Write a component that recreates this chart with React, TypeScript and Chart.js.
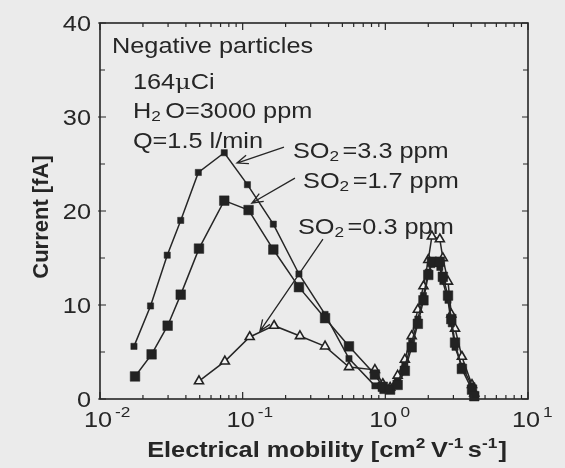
import { useEffect, useRef } from "react";
import { Chart, registerables } from "chart.js";

Chart.register(...registerables);

// ---- Data ----
const mobilitySO2_33 = [0.0173, 0.0226, 0.0296, 0.0368, 0.0489, 0.0743, 0.108, 0.164, 0.248, 0.378, 0.556, 0.845, 0.96, 1.08, 1.22, 1.37, 1.53, 1.69, 1.85, 2.0, 2.12, 2.41, 2.53, 2.75, 2.9, 3.08, 3.44, 4.05, 4.2];
const currentSO2_33 = [5.6, 9.9, 15.3, 19.0, 24.1, 26.2, 22.8, 18.6, 13.3, 9.0, 4.3, 1.4, 0.9, 1.0, 1.8, 3.5, 6.0, 8.5, 11.0, 13.5, 14.3, 14.0, 12.5, 10.5, 8.0, 5.5, 3.5, 1.4, 0.5];

const mobilitySO2_17 = [0.0176, 0.023, 0.0298, 0.0368, 0.0494, 0.0743, 0.11, 0.164, 0.248, 0.378, 0.556, 0.845, 0.96, 1.08, 1.22, 1.37, 1.53, 1.69, 1.85, 2.0, 2.12, 2.41, 2.53, 2.75, 2.9, 3.08, 3.44, 4.05, 4.2];
const currentSO2_17 = [2.4, 4.75, 7.8, 11.1, 16.0, 21.1, 20.1, 15.9, 11.9, 8.6, 5.6, 2.6, 1.3, 1.0, 1.5, 3.0, 5.5, 8.0, 10.5, 13.2, 14.6, 14.6, 13.0, 11.0, 8.5, 6.0, 3.2, 1.0, 0.3];

const mobilitySO2_03 = [0.0494, 0.075, 0.112, 0.166, 0.252, 0.378, 0.556, 0.845, 0.96, 1.08, 1.22, 1.37, 1.53, 1.69, 1.85, 2.0, 2.12, 2.41, 2.53, 2.75, 2.9, 3.08, 3.44, 4.05, 4.2];
const currentSO2_03 = [1.9, 4.0, 6.6, 7.8, 6.7, 5.6, 3.4, 3.1, 1.6, 1.2, 2.5, 4.2, 6.7, 9.5, 12.0, 14.8, 17.3, 17.0, 15.0, 12.5, 9.0, 7.5, 4.5, 1.5, 0.6];

const yTickValues = [0, 10, 20, 30, 40];
const xTickExponents = [-2, -1, 0, 1];
const yAxisTitle = "Current [fA]";
const xAxisTitle = "Electrical mobility [cm";

// annotation anchors in data coordinates (mobility, current)
const noteNegative = { x: 0.01214, y: 36.8 };
const noteSource = { x: 0.017, y: 33.0 };
const noteWater = { x: 0.017, y: 29.9 };
const noteFlow = { x: 0.017, y: 26.7 };
const labelSO2_33 = { x: 0.225, y: 25.6 };
const labelSO2_17 = { x: 0.265, y: 22.4 };
const labelSO2_03 = { x: 0.244, y: 17.55 };
const arrowSO2_33 = { x1: 0.1948, y1: 26.8, x2: 0.0912, y2: 25.1 };
const arrowSO2_17 = { x1: 0.2325, y1: 23.5, x2: 0.116, y2: 20.85 };
const arrowSO2_03 = { x1: 0.3653, y1: 17.0, x2: 0.1322, y2: 7.23 };

// ---- styling ----
const FONT = '"Liberation Sans", Arial, Helvetica, sans-serif';
const SX = 1.15;
const INK = "#262626";
const TEXT = "#262626";
const BG = "#ebebeb";

type Seg = { t: string; size?: number; bold?: boolean; dy?: number; fam?: string; gap?: number };

function segFont(s: Seg, base: number, bold: boolean) {
  const b = s.bold ?? bold;
  return `${b ? "bold " : ""}${s.size ?? base}px ${s.fam ?? FONT}`;
}

function richWidth(ctx: CanvasRenderingContext2D, segs: Seg[], base: number, bold: boolean) {
  let w = 0;
  for (const s of segs) {
    ctx.font = segFont(s, base, bold);
    w += ctx.measureText(s.t).width + (s.gap ?? 0);
  }
  return w;
}

function drawRich(
  ctx: CanvasRenderingContext2D,
  x: number,
  y: number,
  segs: Seg[],
  base: number,
  bold: boolean,
  align: "left" | "center" | "right",
  sx = SX
) {
  ctx.save();
  ctx.translate(x, y);
  ctx.scale(sx, 1);
  const w = richWidth(ctx, segs, base, bold);
  let cx = align === "left" ? 0 : align === "center" ? -w / 2 : -w;
  ctx.textAlign = "left";
  ctx.textBaseline = "alphabetic";
  ctx.fillStyle = TEXT;
  for (const s of segs) {
    ctx.font = segFont(s, base, bold);
    ctx.fillText(s.t, cx, s.dy ?? 0);
    cx += ctx.measureText(s.t).width + (s.gap ?? 0);
  }
  ctx.restore();
}

function drawArrow(ctx: CanvasRenderingContext2D, x1: number, y1: number, x2: number, y2: number) {
  const ang = Math.atan2(y2 - y1, x2 - x1);
  const len = 12;
  const spread = 0.38;
  ctx.beginPath();
  ctx.moveTo(x1, y1);
  ctx.lineTo(x2, y2);
  ctx.moveTo(x2 - len * Math.cos(ang - spread), y2 - len * Math.sin(ang - spread));
  ctx.lineTo(x2, y2);
  ctx.lineTo(x2 - len * Math.cos(ang + spread), y2 - len * Math.sin(ang + spread));
  ctx.stroke();
}

const so2Segs = (rest: string): Seg[] => [
  { t: "SO" },
  { t: "2", size: 15, dy: 3, gap: 3 },
  { t: rest },
];

const decorPlugin = {
  id: "decor",
  beforeDraw(chart: any) {
    const ctx = chart.ctx as CanvasRenderingContext2D;
    ctx.save();
    ctx.fillStyle = BG;
    ctx.fillRect(0, 0, chart.width, chart.height);
    ctx.restore();
  },
  afterDraw(chart: any) {
    const ctx = chart.ctx as CanvasRenderingContext2D;
    const xs = chart.scales.x;
    const ys = chart.scales.y;
    const { left, right, top, bottom } = chart.chartArea;
    const px = (v: number) => xs.getPixelForValue(v);
    const py = (v: number) => ys.getPixelForValue(v);

    ctx.save();
    ctx.strokeStyle = INK;
    ctx.lineWidth = 1.6;
    ctx.strokeRect(left, top, right - left, bottom - top);

    // x ticks (log) on bottom and top, inward
    ctx.lineWidth = 1.2;
    ctx.beginPath();
    for (let d = -2; d <= 1; d++) {
      for (let m = 1; m <= 9; m++) {
        const v = m * Math.pow(10, d);
        if (v > 10.0001) break;
        const x = px(v);
        const len = m === 1 ? 7 : 4;
        ctx.moveTo(x, bottom);
        ctx.lineTo(x, bottom - len);
        ctx.moveTo(x, top);
        ctx.lineTo(x, top + len);
      }
    }
    // y ticks every 5, left and right, inward
    for (let v = 0; v <= 40; v += 5) {
      const y = py(v);
      const len = v % 10 === 0 ? 6 : 5;
      ctx.moveTo(left - (v % 10 === 0 ? 2 : 0), y);
      ctx.lineTo(left + len, y);
      ctx.moveTo(right, y);
      ctx.lineTo(right - len, y);
    }
    ctx.stroke();

    // y tick labels
    for (const v of yTickValues) {
      drawRich(ctx, left - 9, py(v) + 8, [{ t: String(v) }], 22, false, "right");
    }
    // x tick labels 10^e
    for (const e of xTickExponents) {
      const x = px(Math.pow(10, e)) - 2;
      ctx.font = `22px ${FONT}`;
      const w10 = ctx.measureText("10").width * SX;
      drawRich(ctx, x, bottom + 28, [{ t: "10" }], 22, false, "center");
      drawRich(ctx, x + w10 / 2 + 3, bottom + 18, [{ t: String(e) }], 15, false, "left");
    }

    // axis titles
    drawRich(
      ctx,
      (left + right) / 2 + 13,
      bottom + 58,
      [
        { t: xAxisTitle },
        { t: "2", size: 15, dy: -9, gap: 5 },
        { t: "V" },
        { t: "-1", size: 15, dy: -9, gap: 4 },
        { t: "s" },
        { t: "-1", size: 15, dy: -9, gap: 1 },
        { t: "]" },
      ],
      22,
      true,
      "center"
    );
    ctx.save();
    ctx.translate(48, (top + bottom) / 2 + 6);
    ctx.rotate(-Math.PI / 2);
    drawRich(ctx, 0, 0, [{ t: yAxisTitle }], 22, true, "center", 1);
    ctx.restore();

    // annotations
    drawRich(ctx, px(noteNegative.x), py(noteNegative.y), [{ t: "Negative particles" }], 22, false, "left");
    drawRich(
      ctx,
      px(noteSource.x),
      py(noteSource.y),
      [{ t: "164" }, { t: "\u03bc", fam: '"DejaVu Serif", serif', size: 21 }, { t: "Ci" }],
      22,
      false,
      "left"
    );
    drawRich(
      ctx,
      px(noteWater.x),
      py(noteWater.y),
      [{ t: "H" }, { t: "2", size: 15, dy: 3, gap: 4 }, { t: "O=3000 ppm" }],
      22,
      false,
      "left"
    );
    drawRich(ctx, px(noteFlow.x), py(noteFlow.y), [{ t: "Q=1.5 l/min" }], 22, false, "left");
    drawRich(ctx, px(labelSO2_33.x), py(labelSO2_33.y), so2Segs("=3.3 ppm"), 22, false, "left");
    drawRich(ctx, px(labelSO2_17.x), py(labelSO2_17.y), so2Segs("=1.7 ppm"), 22, false, "left");
    drawRich(ctx, px(labelSO2_03.x), py(labelSO2_03.y), so2Segs("=0.3 ppm"), 22, false, "left");

    ctx.strokeStyle = INK;
    ctx.lineWidth = 1.3;
    for (const a of [arrowSO2_33, arrowSO2_17, arrowSO2_03]) {
      drawArrow(ctx, px(a.x1), py(a.y1), px(a.x2), py(a.y2));
    }
    ctx.restore();
  },
};

function toPoints(xs: number[], ys: number[]) {
  return xs.map((x, i) => ({ x, y: ys[i] }));
}

export default function App() {
  const ref = useRef<HTMLCanvasElement | null>(null);

  useEffect(() => {
    if (!ref.current) return;
    const chart = new Chart(ref.current, {
      type: "line",
      data: {
        datasets: [
          {
            label: "SO2=1.7 ppm",
            data: toPoints(mobilitySO2_17, currentSO2_17),
            borderColor: INK,
            borderWidth: 1.5,
            pointStyle: "rect",
            pointRadius: 6.8,
            pointBackgroundColor: "#222222",
            pointBorderColor: "#222222",
            pointBorderWidth: 0.5,
            clip: 10,
          } as any,
          {
            label: "SO2=3.3 ppm",
            data: toPoints(mobilitySO2_33, currentSO2_33),
            borderColor: INK,
            borderWidth: 1.5,
            pointStyle: "rect",
            pointRadius: 4.4,
            pointBackgroundColor: "#222222",
            pointBorderColor: "#222222",
            pointBorderWidth: 0.5,
            clip: 10,
          } as any,
          {
            label: "SO2=0.3 ppm",
            data: toPoints(mobilitySO2_03, currentSO2_03),
            borderColor: INK,
            borderWidth: 1.5,
            pointStyle: "triangle",
            pointRadius: 5.2,
            pointBackgroundColor: "#f2f2f2",
            pointBorderColor: "#222222",
            pointBorderWidth: 1.6,
            clip: 10,
          } as any,
        ],
      },
      options: {
        responsive: false,
        animation: false,
        devicePixelRatio: 1,
        layout: { padding: { left: 0, top: 23, right: 37, bottom: 0 } },
        plugins: { legend: { display: false }, tooltip: { enabled: false } },
        elements: { line: { tension: 0 } },
        scales: {
          x: {
            type: "logarithmic",
            min: 0.01,
            max: 10,
            grid: { display: false },
            border: { display: false },
            ticks: { display: false },
            afterFit: (s: any) => {
              s.height = 69;
            },
          },
          y: {
            type: "linear",
            min: 0,
            max: 40,
            grid: { display: false },
            border: { display: false },
            ticks: { display: false },
            afterFit: (s: any) => {
              s.width = 100;
            },
          },
        },
      } as any,
      plugins: [decorPlugin],
    });
    return () => chart.destroy();
  }, []);

  return (
    <canvas
      ref={ref}
      width={565}
      height={468}
      style={{ position: "fixed", left: 0, top: 0, width: 565, height: 468 }}
    />
  );
}
